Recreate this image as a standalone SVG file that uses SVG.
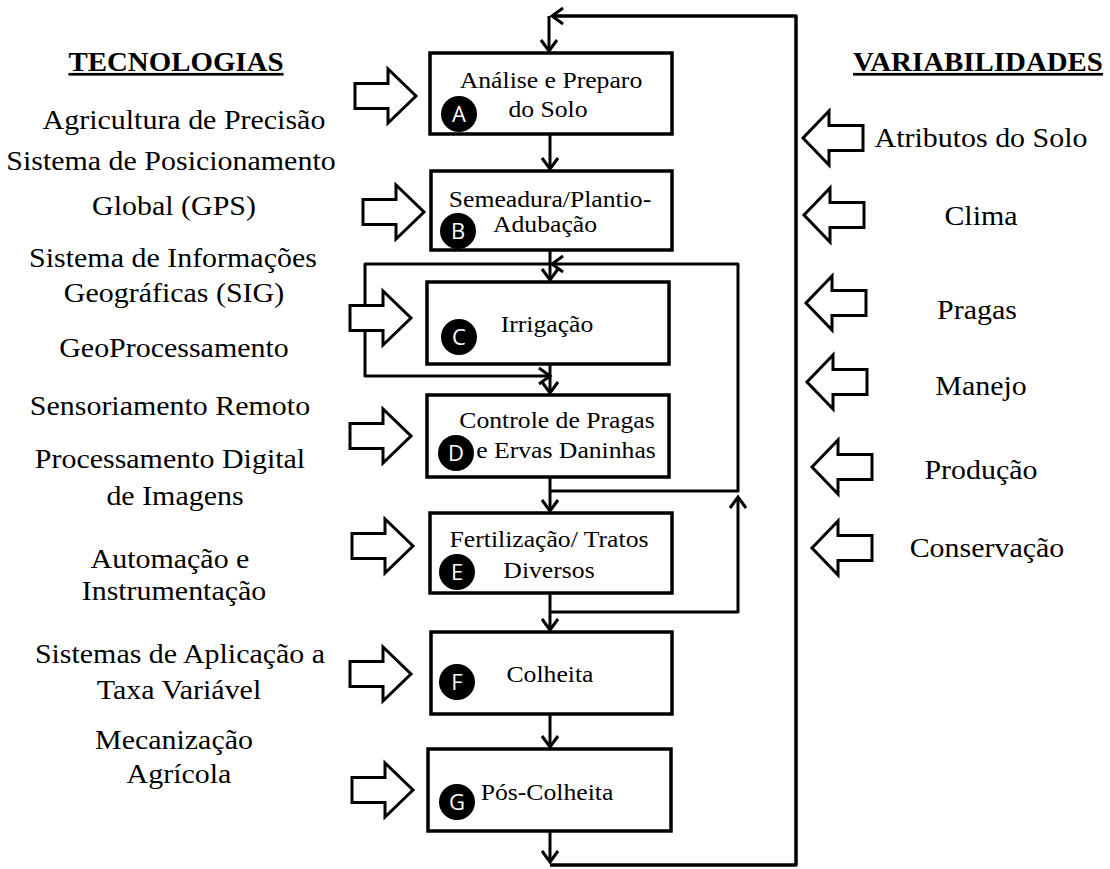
<svg xmlns="http://www.w3.org/2000/svg" width="1110" height="869" viewBox="0 0 1110 869">
<style>
  .t { font-family: "Liberation Serif", "Times New Roman", serif; font-size: 28px; fill: #000; text-anchor: middle; transform-box: fill-box; transform-origin: center; transform: scaleX(1.07); }
  .h { font-weight: bold; font-size: 27px; text-decoration: underline; }
  .bt { font-size: 24px; }
  .box { fill: #fff; stroke: #000; stroke-width: 3.5; }
  .dot { fill: #000; }
  .lt { font-family: "Open Sans", "Liberation Sans", sans-serif; font-size: 22px; fill: #fff; text-anchor: middle; }
  .ha { fill: #fff; stroke: #000; stroke-width: 3; stroke-linejoin: miter; }
  .c { fill: none; stroke: #000; stroke-width: 3; stroke-linejoin: round; }
</style>
<defs>
  <marker id="ah" markerUnits="userSpaceOnUse" markerWidth="16" markerHeight="18" viewBox="0 0 16 18" refX="13" refY="9" orient="auto" overflow="visible">
    <path d="M2,1 L13,9 L2,17" fill="none" stroke="#000" stroke-width="3"/>
  </marker>
  <path id="ra" d="M0,-12.5 H33 V-27 L61,0 L33,27 V12.5 H0 Z"/>
  <path id="la" d="M0,0 L26,-27 V-12.5 H60 V12.5 H26 V27 Z"/>
</defs>
<rect width="1110" height="869" fill="#fff"/>

<g id="connectors" class="c">
  <path d="M550,832 V862" marker-end="url(#ah)"/>
  <path d="M550,865 H796 V16 H552" marker-end="url(#ah)" stroke-width="3.5"/>
  <path d="M549,16 V51" marker-end="url(#ah)"/>
  <path d="M550,135 V169" marker-end="url(#ah)"/>
  <path d="M550,251 V280" marker-end="url(#ah)"/>
  <path d="M550,264 H365 V376 H550" marker-end="url(#ah)"/>
  <path d="M550,365 V393" marker-end="url(#ah)"/>
  <path d="M550,478 V511" marker-end="url(#ah)"/>
  <path d="M550,491 H738 V264 H552" marker-end="url(#ah)"/>
  <path d="M550,594 V630" marker-end="url(#ah)"/>
  <path d="M550,612 H738 V497" marker-end="url(#ah)"/>
  <path d="M550,715 V747" marker-end="url(#ah)"/>
</g>

<g id="tech-arrows">
  <use href="#ra" class="ha" transform="translate(355,96)"/>
  <use href="#ra" class="ha" transform="translate(363,212)"/>
  <use href="#ra" class="ha" transform="translate(350,318)"/>
  <use href="#ra" class="ha" transform="translate(350,436)"/>
  <use href="#ra" class="ha" transform="translate(352,546)"/>
  <use href="#ra" class="ha" transform="translate(350,674)"/>
  <use href="#ra" class="ha" transform="translate(352,790)"/>
</g>
<g id="var-arrows">
  <use href="#la" class="ha" transform="translate(803,138)"/>
  <use href="#la" class="ha" transform="translate(804,215)"/>
  <use href="#la" class="ha" transform="translate(806,303)"/>
  <use href="#la" class="ha" transform="translate(807,382)"/>
  <use href="#la" class="ha" transform="translate(812,467)"/>
  <use href="#la" class="ha" transform="translate(812,548)"/>
</g>

<g id="nodeA">
  <rect class="box" x="430" y="53" width="242" height="81"/>
  <text class="t bt" x="551" y="88">Análise e Preparo</text>
  <text class="t bt" x="548" y="117">do Solo</text>
  <circle class="dot" cx="459" cy="114" r="18"/>
  <text class="lt" x="459" y="122">A</text>
</g>
<g id="nodeB">
  <rect class="box" x="431" y="171" width="241" height="79"/>
  <text class="t bt" x="550" y="207">Semeadura/Plantio-</text>
  <text class="t bt" x="545" y="232">Adubação</text>
  <circle class="dot" cx="458" cy="231" r="18"/>
  <text class="lt" x="458" y="239">B</text>
</g>
<g id="nodeC">
  <rect class="box" x="427" y="282" width="242" height="82"/>
  <text class="t bt" x="547" y="332">Irrigação</text>
  <circle class="dot" cx="459" cy="337" r="18"/>
  <text class="lt" x="459" y="345">C</text>
</g>
<g id="nodeD">
  <rect class="box" x="427" y="395" width="242" height="82"/>
  <text class="t bt" x="557" y="428">Controle de Pragas</text>
  <text class="t bt" x="566" y="458">e Ervas Daninhas</text>
  <circle class="dot" cx="456" cy="453" r="18"/>
  <text class="lt" x="456" y="461">D</text>
</g>
<g id="nodeE">
  <rect class="box" x="430" y="513" width="242" height="80"/>
  <text class="t bt" x="549" y="547">Fertilização/ Tratos</text>
  <text class="t bt" x="549" y="578">Diversos</text>
  <circle class="dot" cx="457" cy="572" r="18"/>
  <text class="lt" x="457" y="580">E</text>
</g>
<g id="nodeF">
  <rect class="box" x="431" y="632" width="241" height="82"/>
  <text class="t bt" x="550" y="682">Colheita</text>
  <circle class="dot" cx="457" cy="682" r="18"/>
  <text class="lt" x="457" y="690">F</text>
</g>
<g id="nodeG">
  <rect class="box" x="428" y="749" width="243" height="82"/>
  <text class="t bt" x="547" y="800">Pós-Colheita</text>
  <circle class="dot" cx="457" cy="802" r="18"/>
  <text class="lt" x="457" y="810">G</text>
</g>

<g id="tecnologias">
  <text class="t h" x="176" y="71">TECNOLOGIAS</text>
  <text class="t" x="184" y="129">Agricultura de Precisão</text>
  <text class="t" x="171" y="170">Sistema de Posicionamento</text>
  <text class="t" x="174" y="215">Global (GPS)</text>
  <text class="t" x="173" y="267">Sistema de Informações</text>
  <text class="t" x="174" y="302">Geográficas (SIG)</text>
  <text class="t" x="174" y="357">GeoProcessamento</text>
  <text class="t" x="170" y="415">Sensoriamento Remoto</text>
  <text class="t" x="170" y="468">Processamento Digital</text>
  <text class="t" x="175" y="505">de Imagens</text>
  <text class="t" x="170" y="568">Automação e</text>
  <text class="t" x="174" y="600">Instrumentação</text>
  <text class="t" x="180" y="663">Sistemas de Aplicação a</text>
  <text class="t" x="179" y="699">Taxa Variável</text>
  <text class="t" x="174" y="749">Mecanização</text>
  <text class="t" x="179" y="783">Agrícola</text>
</g>

<g id="variabilidades">
  <text class="t h" x="978" y="71">VARIABILIDADES</text>
  <text class="t" x="981" y="147">Atributos do Solo</text>
  <text class="t" x="981" y="225">Clima</text>
  <text class="t" x="977" y="319">Pragas</text>
  <text class="t" x="981" y="395">Manejo</text>
  <text class="t" x="981" y="479">Produção</text>
  <text class="t" x="987" y="557">Conservação</text>
</g>
</svg>
